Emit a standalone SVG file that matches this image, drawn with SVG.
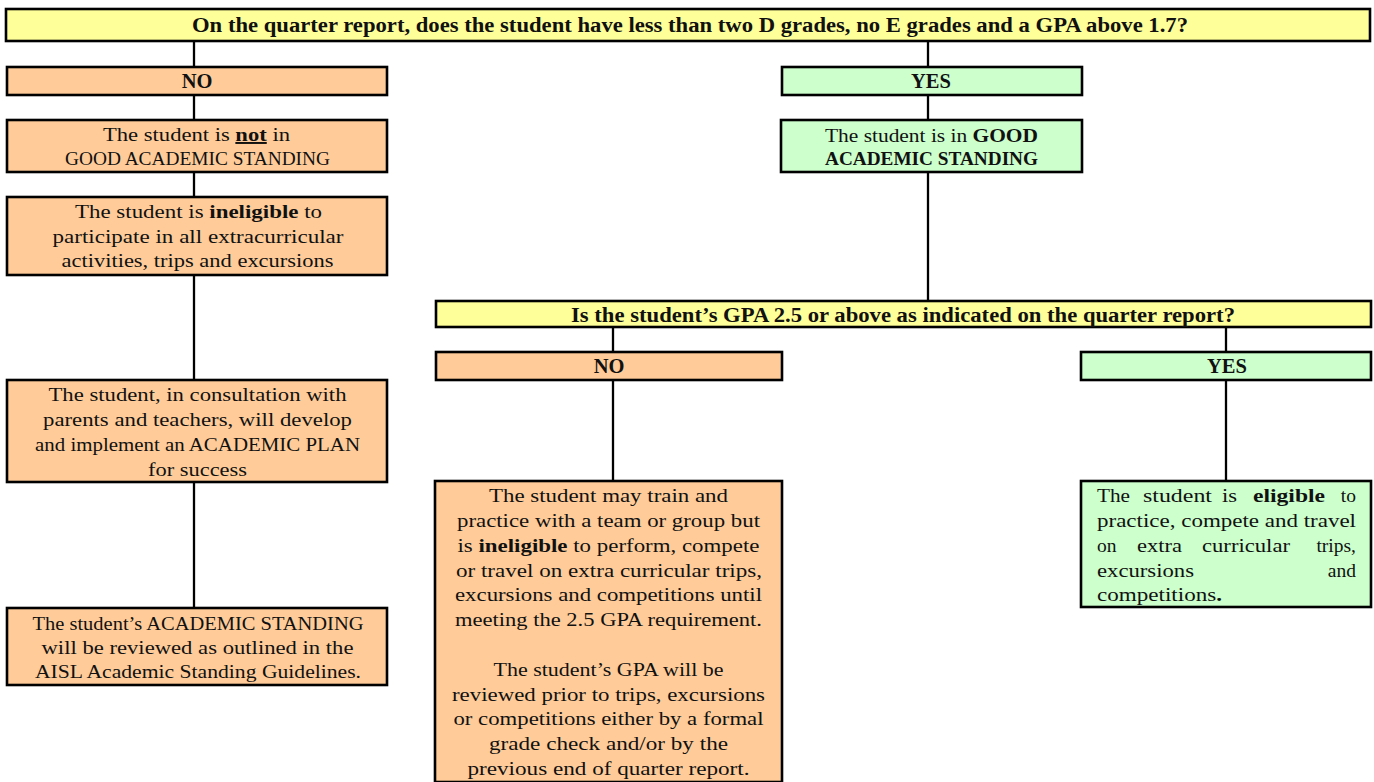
<svg xmlns="http://www.w3.org/2000/svg" width="1374" height="782" viewBox="0 0 1374 782">
<style>
.y{fill:#FFFF99;stroke:#000;stroke-width:2.6}
.o{fill:#FFCC99;stroke:#000;stroke-width:2.6}
.g{fill:#CCFFCC;stroke:#000;stroke-width:2.6}
.c{stroke:#000;stroke-width:2.3;fill:none}
text{font-family:"Liberation Serif","Times New Roman",serif;font-size:19.5px;fill:#111}
.h{font-weight:bold;font-size:20.5px}
.m{text-anchor:middle}
.b{font-weight:bold}
</style>
<g id="connectors">
<line class="c" x1="194" y1="41" x2="194" y2="67"/>
<line class="c" x1="928" y1="41" x2="928" y2="67"/>
<line class="c" x1="194" y1="95" x2="194" y2="120"/>
<line class="c" x1="194" y1="172" x2="194" y2="197"/>
<line class="c" x1="194" y1="275" x2="194" y2="380"/>
<line class="c" x1="194" y1="482" x2="194" y2="608"/>
<line class="c" x1="928" y1="95" x2="928" y2="120"/>
<line class="c" x1="928" y1="172" x2="928" y2="301"/>
<line class="c" x1="613" y1="327" x2="613" y2="352"/>
<line class="c" x1="613" y1="380" x2="613" y2="481"/>
<line class="c" x1="1226" y1="327" x2="1226" y2="352"/>
<line class="c" x1="1226" y1="380" x2="1226" y2="481"/>
</g>
<g id="q1">
<rect class="y" x="6" y="9" width="1364" height="32"/>
<text class="h m" x="690" y="32" textLength="996" lengthAdjust="spacingAndGlyphs">On the quarter report, does the student have less than two D grades, no E grades and a GPA above 1.7?</text>
</g>
<g id="no1">
<rect class="o" x="7" y="67" width="380" height="28"/>
<text class="h m" x="197" y="88">NO</text>
</g>
<g id="yes1">
<rect class="g" x="782" y="67" width="300" height="28"/>
<text class="h m" x="931" y="88">YES</text>
</g>
<g id="notgood">
<rect class="o" x="7" y="120" width="380" height="52"/>
<text class="m" x="196.5" y="141" textLength="187" lengthAdjust="spacingAndGlyphs">The student is <tspan class="b" text-decoration="underline">not</tspan> in</text>
<text class="m" x="197.5" y="165" textLength="265" lengthAdjust="spacingAndGlyphs">GOOD ACADEMIC STANDING</text>
</g>
<g id="ineligible1">
<rect class="o" x="7" y="197" width="380" height="78"/>
<text class="m" x="198.5" y="218" textLength="247" lengthAdjust="spacingAndGlyphs">The student is <tspan class="b">ineligible</tspan> to</text>
<text class="m" x="198" y="243" textLength="291" lengthAdjust="spacingAndGlyphs">participate in all extracurricular</text>
<text class="m" x="197.5" y="267" textLength="272" lengthAdjust="spacingAndGlyphs">activities, trips and excursions</text>
</g>
<g id="plan">
<rect class="o" x="7" y="380" width="380" height="102"/>
<text class="m" x="197.5" y="401" textLength="298" lengthAdjust="spacingAndGlyphs">The student, in consultation with</text>
<text class="m" x="197.5" y="426" textLength="309" lengthAdjust="spacingAndGlyphs">parents and teachers, will develop</text>
<text class="m" x="197.5" y="451" textLength="325" lengthAdjust="spacingAndGlyphs">and implement an ACADEMIC PLAN</text>
<text class="m" x="197.5" y="476" textLength="99" lengthAdjust="spacingAndGlyphs">for success</text>
</g>
<g id="review">
<rect class="o" x="7" y="608" width="380" height="77"/>
<text class="m" x="198" y="630" textLength="331" lengthAdjust="spacingAndGlyphs">The student’s ACADEMIC STANDING</text>
<text class="m" x="197.5" y="654" textLength="312" lengthAdjust="spacingAndGlyphs">will be reviewed as outlined in the</text>
<text class="m" x="198" y="678" textLength="326" lengthAdjust="spacingAndGlyphs">AISL Academic Standing Guidelines.</text>
</g>
<g id="good">
<rect class="g" x="781" y="120" width="301" height="52"/>
<text class="m" x="931.5" y="142" textLength="213" lengthAdjust="spacingAndGlyphs">The student is in <tspan class="b">GOOD</tspan></text>
<text class="m b" x="931.5" y="165" textLength="213" lengthAdjust="spacingAndGlyphs">ACADEMIC STANDING</text>
</g>
<g id="q2">
<rect class="y" x="436" y="301" width="935" height="26"/>
<text class="h m" x="903" y="322" textLength="664" lengthAdjust="spacingAndGlyphs">Is the student’s GPA 2.5 or above as indicated on the quarter report?</text>
</g>
<g id="no2">
<rect class="o" x="436" y="352" width="346" height="28"/>
<text class="h m" x="609" y="373">NO</text>
</g>
<g id="yes2">
<rect class="g" x="1081" y="352" width="290" height="28"/>
<text class="h m" x="1227" y="373">YES</text>
</g>
<g id="train">
<rect class="o" x="435" y="481" width="347" height="301"/>
<text class="m" x="608.5" y="502" textLength="239" lengthAdjust="spacingAndGlyphs">The student may train and</text>
<text class="m" x="608.5" y="527" textLength="303" lengthAdjust="spacingAndGlyphs">practice with a team or group but</text>
<text class="m" x="608.5" y="552" textLength="302" lengthAdjust="spacingAndGlyphs">is <tspan class="b">ineligible</tspan> to perform, compete</text>
<text class="m" x="609" y="577" textLength="306" lengthAdjust="spacingAndGlyphs">or travel on extra curricular trips,</text>
<text class="m" x="608.5" y="601" textLength="307" lengthAdjust="spacingAndGlyphs">excursions and competitions until</text>
<text class="m" x="608.5" y="626" textLength="307" lengthAdjust="spacingAndGlyphs">meeting the 2.5 GPA requirement.</text>
<text class="m" x="608.5" y="676" textLength="230" lengthAdjust="spacingAndGlyphs">The student’s GPA will be</text>
<text class="m" x="608.5" y="701" textLength="313" lengthAdjust="spacingAndGlyphs">reviewed prior to trips, excursions</text>
<text class="m" x="608.5" y="725" textLength="310" lengthAdjust="spacingAndGlyphs">or competitions either by a formal</text>
<text class="m" x="608.5" y="750" textLength="239" lengthAdjust="spacingAndGlyphs">grade check and/or by the</text>
<text class="m" x="608.5" y="775" textLength="282" lengthAdjust="spacingAndGlyphs">previous end of quarter report.</text>
</g>
<g id="eligible">
<rect class="g" x="1081" y="481" width="290" height="126"/>
<text x="1097" y="502" textLength="33" lengthAdjust="spacingAndGlyphs">The</text>
<text x="1143" y="502" textLength="69" lengthAdjust="spacingAndGlyphs">student</text>
<text x="1222" y="502" textLength="15" lengthAdjust="spacingAndGlyphs">is</text>
<text class="b" x="1253" y="502" textLength="72" lengthAdjust="spacingAndGlyphs">eligible</text>
<text x="1356" y="502" text-anchor="end">to</text>
<text x="1097" y="527" textLength="259" lengthAdjust="spacingAndGlyphs">practice, compete and travel</text>
<text x="1097" y="552">on</text>
<text x="1137" y="552" textLength="45" lengthAdjust="spacingAndGlyphs">extra</text>
<text x="1202" y="552" textLength="88" lengthAdjust="spacingAndGlyphs">curricular</text>
<text x="1356" y="552" text-anchor="end">trips,</text>
<text x="1097" y="577" textLength="97" lengthAdjust="spacingAndGlyphs">excursions</text>
<text x="1356" y="577" text-anchor="end">and</text>
<text x="1097" y="601" textLength="125" lengthAdjust="spacingAndGlyphs">competitions<tspan class="b">.</tspan></text>
</g>
</svg>
